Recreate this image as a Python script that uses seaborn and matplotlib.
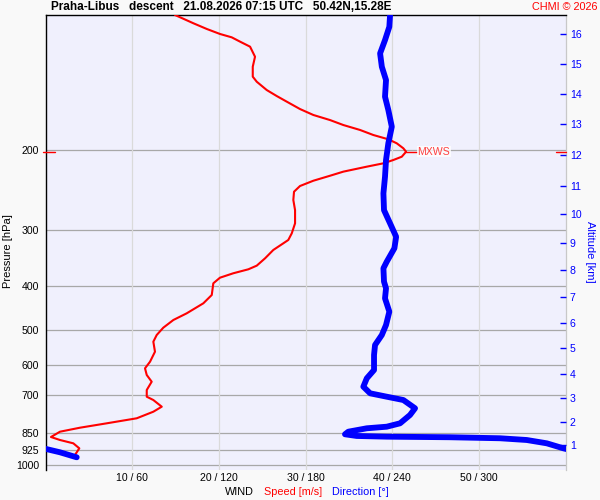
import numpy as np
import pandas as pd
import matplotlib
matplotlib.use('Agg')
import matplotlib.pyplot as plt
from matplotlib.ticker import NullLocator
import seaborn as sns

# ---------------- data ----------------
speed_p = [100.0, 104.3, 107.4, 110.2, 112.1, 114.6, 117.6, 123.8, 130.3, 137.1, 140.7,
           146.8, 151.4, 155.8, 161.8, 166.8, 171.2, 175.6, 180.1, 184.8, 188.9, 192.8,
           197.8, 201.3, 206.5, 210.0, 213.6, 217.3, 222.9, 227.6, 233.5, 239.9, 247.0,
           257.7, 271.4, 290.4, 305.6, 316.2, 321.6, 332.8, 347.3, 360.6, 367.4, 374.9,
           383.5, 394.7, 419.0, 437.2, 460.2, 476.2, 495.3, 514.2, 532.1, 560.1, 589.5,
           609.8, 631.0, 653.0, 681.3, 705.1, 717.2, 742.1, 761.4, 787.5, 808.0, 826.3,
           843.4, 866.6, 880.0, 895.1, 918.3, 950.1]
speed_ms = [14.94, 17.05, 18.6, 20.13, 21.48, 22.44, 23.6, 24.17, 23.91, 23.91, 24.37,
            25.52, 26.68, 27.83, 29.36, 30.9, 32.83, 34.36, 36.29, 37.82, 39.55, 40.52,
            41.28, 41.6, 41.1, 40.13, 38.98, 37.06, 34.36, 32.83, 30.9, 29.36, 28.67,
            28.59, 28.79, 28.79, 28.41, 28.01, 27.44, 26.28, 25.33, 24.37, 23.4, 21.67,
            20.13, 19.36, 19.18, 18.21, 16.29, 14.75, 13.59, 12.83, 12.44, 12.63, 12.06,
            11.48, 11.68, 12.25, 11.68, 11.68, 12.44, 13.41, 12.44, 10.52, 7.06, 3.98,
            1.67, 0.63, 1.67, 3.21, 3.9, 3.4]

dir_p = [100.0, 106.2, 113.7, 121.7, 130.3, 139.5, 151.9, 162.6, 177.1, 192.8, 210.0,
         228.8, 249.1, 271.4, 290.4, 311.0, 329.9, 353.4, 365.5, 391.3, 404.9, 426.3,
         456.3, 488.6, 514.2, 541.2, 569.6, 615.1, 641.7, 669.9, 693.0, 705.1, 717.2,
         748.2, 774.3, 808.0, 822.1, 828.8, 843.4, 854.6, 862.0, 865.1, 867.7, 872.2,
         880.0, 895.1, 918.3, 937.1, 961.4]
# direction unwrapped past 360 deg near the ground
dir_deg = [238.5, 238.0, 235.0, 231.6, 232.8, 235.7, 235.0, 237.3, 239.7, 237.3, 235.7,
           235.0, 233.9, 234.3, 238.5, 242.7, 241.5, 236.2, 233.9, 234.3, 235.7, 235.0,
           238.0, 235.7, 232.8, 228.1, 227.4, 227.4, 222.4, 220.0, 224.7, 236.2, 247.7,
           255.8, 252.3, 245.4, 236.2, 222.4, 209.6, 207.3, 215.4, 236.2, 280.0, 314.6,
           333.1, 347.0, 358.5, 370.0, 381.6]

pressure_ticks = [200, 300, 400, 500, 600, 700, 850, 925, 1000]
pressure_labels = ['200', '300', '400', '500', '600', '700', '850', '925', '1000']
alt_km = ['1', '2', '3', '4', '5', '6', '7', '8', '9', '10', '11', '12', '13', '14', '15', '16']
alt_p = [902.8, 803.7, 710.8, 628.6, 550.6, 484.4, 422.7, 368.7, 321.6, 277.3, 239.5,
         204.7, 175.0, 150.1, 128.7, 110.4]
speed_ticks = [10, 20, 30, 40, 50]
speed_tick_labels = ['10 / 60', '20 / 120', '30 / 180', '40 / 240', '50 / 300']
mxws_p = 201.1
mxws_speed = 41.6

# ---------------- style ----------------
sns.set_style('white')
plt.rcParams['font.family'] = ['Liberation Sans', 'DejaVu Sans']

W, H = 600, 500
fig = plt.figure(figsize=(6, 5), dpi=100, facecolor='#f9f9f9')
x0, x1, y0, y1 = 45.5, 565.6, 15, 470
ax = fig.add_axes([x0 / W, 1 - y1 / H, (x1 - x0) / W, (y1 - y0) / H])
ax.set_facecolor('#f0f0fd')

# grid
for p in pressure_ticks:
    ax.axhline(p, color='#a8a8a8', lw=0.9, zorder=1)
for s in speed_ticks:
    ax.axvline(s, color='#dadada', lw=0.9, zorder=1)

spd = pd.DataFrame({'speed': speed_ms, 'p': speed_p})
drc = pd.DataFrame({'dir': np.array(dir_deg) / 6.0, 'p': dir_p})
drc2 = pd.DataFrame({'dir': (np.array(dir_deg) - 360.0) / 6.0, 'p': dir_p})

sns.lineplot(data=spd, x='speed', y='p', sort=False, estimator=None, color='#ff0000',
             lw=1.5, ax=ax, zorder=3)
sns.lineplot(data=drc, x='dir', y='p', sort=False, estimator=None, color='#0000ff',
             lw=4.2, ax=ax, zorder=4, solid_capstyle='round', solid_joinstyle='round')
sns.lineplot(data=drc2, x='dir', y='p', sort=False, estimator=None, color='#0000ff',
             lw=4.2, ax=ax, zorder=4, solid_capstyle='round', solid_joinstyle='round')

ax.set_yscale('log')
ax.set_ylim(1026, 100)
ax.set_xlim(0, 60)
ax.set_yticks(pressure_ticks, pressure_labels)
ax.yaxis.set_minor_locator(NullLocator())
ax.set_xticks(speed_ticks, speed_tick_labels)
ax.tick_params(axis='y', length=0, pad=4.5, labelsize=7.6, colors='black')
ax.tick_params(axis='x', length=0, pad=2.5, labelsize=7.6, colors='black')
ax.set_xlabel('')
ax.set_ylabel('')
for side in ['left', 'top']:
    ax.spines[side].set_visible(True)
    ax.spines[side].set_color('black')
    ax.spines[side].set_linewidth(1.0)
ax.spines['bottom'].set_visible(False)
ax.spines['right'].set_visible(True)
ax.spines['right'].set_color('#c8c8c8')
ax.spines['right'].set_linewidth(0.9)

# MXWS marker
ax.plot([mxws_speed, mxws_speed + 1.25], [mxws_p, mxws_p], color='#ff0000', lw=1.0, zorder=5)
ax.text(mxws_speed + 1.3, mxws_p, 'MXWS', color='#ff4040', fontsize=7.6, va='center',
        ha='left', zorder=6,
        bbox=dict(facecolor='white', edgecolor='none', pad=0.5, alpha=0.8))
trans = ax.get_yaxis_transform()
ax.plot([-0.005, 0.018], [mxws_p, mxws_p], color='#ff0000', lw=1.0, transform=trans,
        clip_on=False, zorder=6)
ax.plot([0.981, 1.0], [mxws_p, mxws_p], color='#ff0000', lw=1.0, transform=trans,
        clip_on=False, zorder=6)

# altitude axis
ax2 = ax.twinx()
ax2.set_yscale('log')
ax2.set_ylim(1026, 100)
ax2.set_yticks(alt_p, alt_km)
ax2.yaxis.set_minor_locator(NullLocator())
ax2.tick_params(axis='y', direction='in', length=4.4, width=1.0, color='#0000ff',
                labelcolor='#0000ff', labelsize=7.6, pad=3)
for s in ax2.spines.values():
    s.set_visible(False)
ax2.grid(False)

# texts
fig.text(8 / W, 1 - 251 / H, 'Pressure [hPa]', rotation=90, va='center', ha='center',
         fontsize=8, color='black')
fig.text(590 / W, 1 - 252 / H, 'Altitude [km]', rotation=-90, va='center', ha='center',
         fontsize=8, color='#0000ff')
fig.text(51 / W, 1 - 7.5 / H,
         'Praha-Libus   descent   21.08.2026 07:15 UTC   50.42N,15.28E',
         fontsize=8.5, fontweight='bold', ha='left', va='center', color='black')
fig.text(597 / W, 1 - 7.5 / H, 'CHMI \u00a9 2026', fontsize=7.8, ha='right', va='center',
         color='#ff0000')
fig.text(225 / W, 1 - 492 / H, 'WIND', fontsize=7.8, ha='left', va='center', color='black')
fig.text(264 / W, 1 - 492 / H, 'Speed [m/s]', fontsize=7.8, ha='left', va='center',
         color='#ff0000')
fig.text(332 / W, 1 - 492 / H, 'Direction [\u00b0]', fontsize=7.8, ha='left', va='center',
         color='#0000ff')

fig.savefig('out.png', dpi=100, facecolor=fig.get_facecolor())
